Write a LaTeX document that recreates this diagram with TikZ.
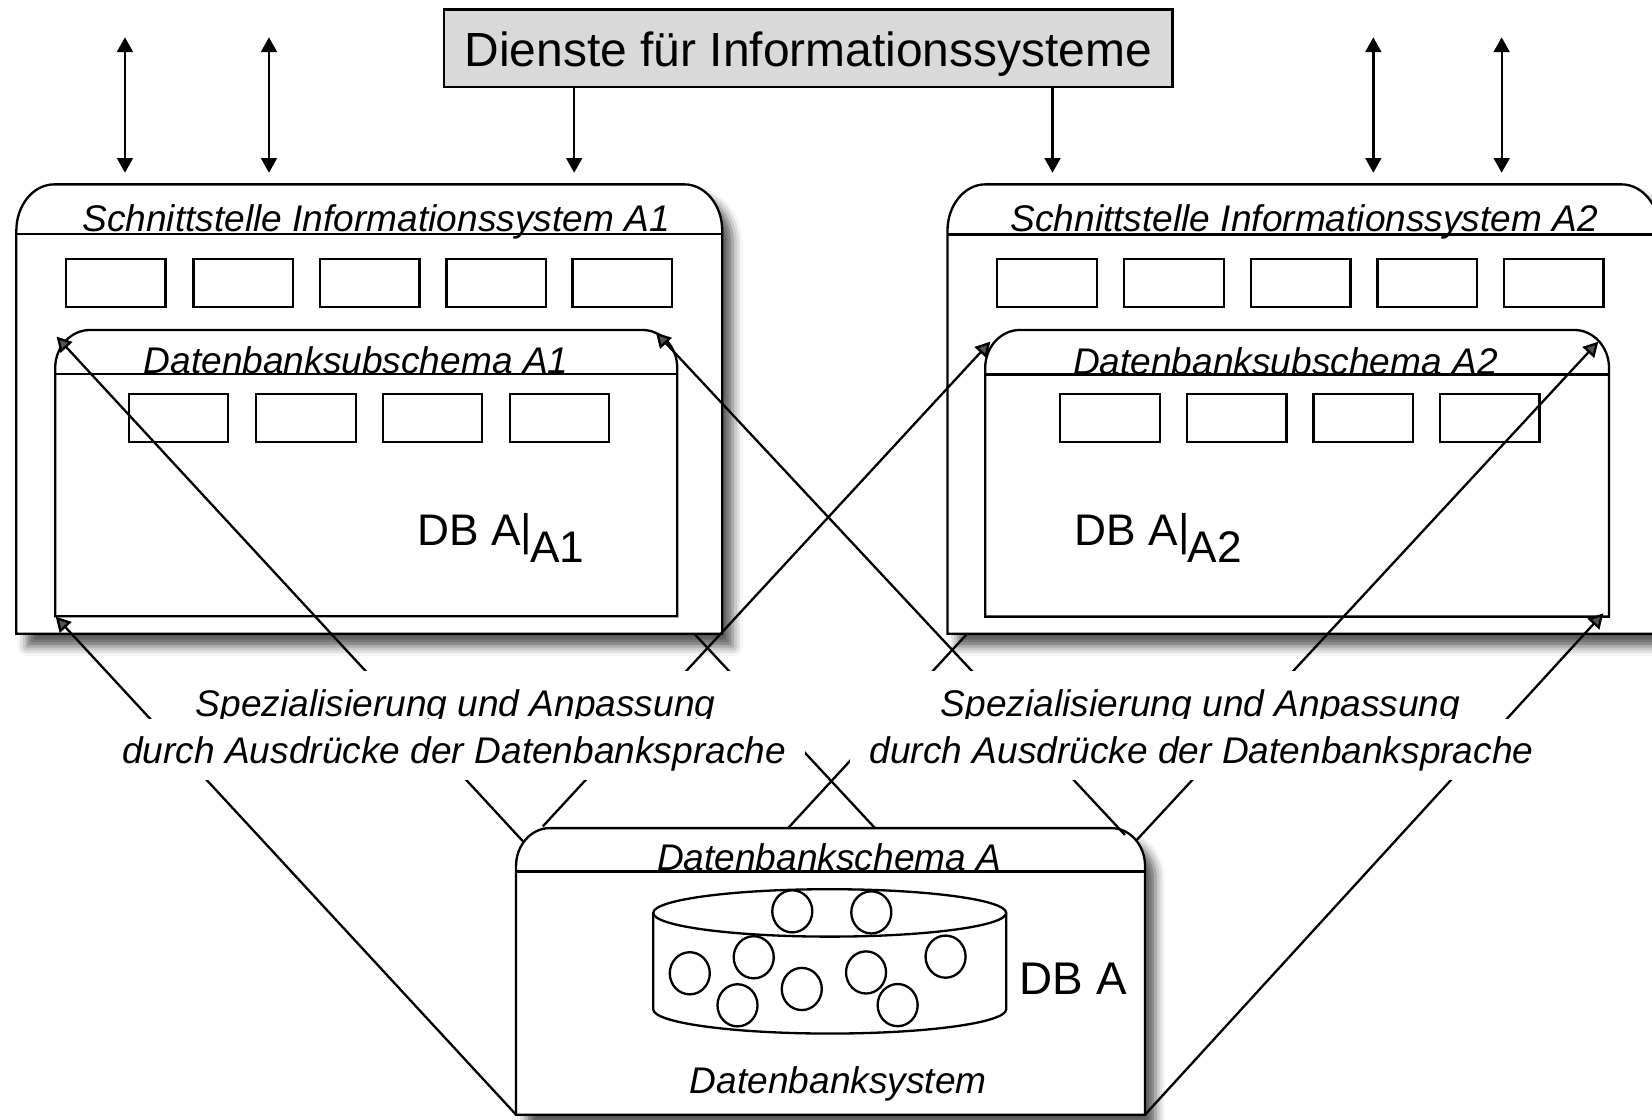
\documentclass[tikz,border=0pt]{standalone}
\usepackage{fontspec}
\setmainfont{Liberation Sans}
\usetikzlibrary{arrows.meta,shadows.blur}

\begin{document}
\begin{tikzpicture}[x=0.5pt,y=-0.5pt,
  every node/.style={inner sep=0pt,outer sep=0pt},
  frame/.style={draw=black,line width=1.1pt},
  container/.style={frame,fill=white},
  dropshadow/.style={blur shadow={shadow xshift=5pt,shadow yshift=-6pt,shadow blur radius=4.5pt,shadow opacity=65}},
  cell/.style={frame,fill=white,anchor=north west,minimum width=47.2pt,minimum height=22.7pt},
  link/.style={line width=1.1pt},
  tip/.style={-{Triangle[length=7pt,width=7.5pt]}},
  bitip/.style={{Triangle[length=7pt,width=7.5pt]}-{Triangle[length=7pt,width=7.5pt]}},
  headtxt/.style={font=\fontsize{17.6pt}{20pt}\selectfont\itshape,anchor=base},
  dbtxt/.style={font=\fontsize{21pt}{25pt}\selectfont,anchor=base west},
]
\useasboundingbox (0,0) rectangle (1568,1063);
\clip (0,0) rectangle (1568,1063);

% ---------- services box and its arrows ----------
\node[frame,fill={rgb,255:red,217;green,217;blue,217},minimum width=345.7pt,minimum height=37pt,
      text height=17.4pt,text depth=0pt,font=\fontsize{22.75pt}{27pt}\selectfont]
  (dienste) at (767.3,45.9) {Dienste für Informationssysteme};

\coordinate (u1) at (118.6,35.4);  \coordinate (l1) at (118.6,164);
\coordinate (u2) at (255.3,35.4);  \coordinate (l2) at (255.3,164);
\coordinate (l3) at (545,164);
\coordinate (l4) at (999,164);
\coordinate (u5) at (1303.5,35.4); \coordinate (l5) at (1303.5,164);
\coordinate (u6) at (1425.3,35.4); \coordinate (l6) at (1425.3,164);
\draw[link,bitip] (u1) -- (l1);
\draw[link,bitip] (u2) -- (l2);
\draw[link,tip] (dienste.south -| l3) -- (l3);
\draw[link,tip] (dienste.south -| l4) -- (l4);
\draw[link,bitip] (u5) -- (l5);
\draw[link,bitip] (u6) -- (l6);

% ---------- information system A1 ----------
\draw[container,dropshadow] (15.5,601.5) -- (15.5,219)
  arc[start angle=180,end angle=270,x radius=36,y radius=44] -- (649.5,175)
  arc[start angle=270,end angle=360,x radius=36,y radius=44] -- (685.5,601.5) -- cycle;
\draw[frame] (15.5,222) -- (685.5,222);
\node[headtxt] (titA1) at (357,220) {Schnittstelle Informationssystem A1};
\foreach \x [count=\i] in {62.7,183.7,303.7,423.7,543.3}
  \node[cell] (ifA1-\i) at (\x,246.1) {};

\draw[container] (52.4,584.9) -- (52.4,349.2)
  arc[start angle=180,end angle=270,x radius=33,y radius=36] -- (609.8,313.2)
  arc[start angle=270,end angle=360,x radius=33,y radius=36] -- (642.8,584.9) -- cycle;
\draw[frame] (52.4,355) -- (642.8,355);
\node[headtxt] (subA1) at (338,354.5) {Datenbanksubschema A1};
\foreach \x [count=\i] in {122.3,243.2,363.3,483.8}
  \node[cell] (sbA1-\i) at (\x,374) {};
\node[dbtxt] (dbA1) at (396.4,518) {DB A|\kern-1pt\raisebox{-8pt}{A1}};

% ---------- information system A2 ----------
\draw[container,dropshadow] (899.3,601.5) -- (899.3,219)
  arc[start angle=180,end angle=270,x radius=36,y radius=44] -- (1539,175)
  arc[start angle=270,end angle=360,x radius=36,y radius=44] -- (1575,601.5) -- cycle;
\draw[frame] (899.3,222.5) -- (1575,222.5);
\node[headtxt] (titA2) at (1238,220) {Schnittstelle Informationssystem A2};
\foreach \x [count=\i] in {946.5,1067.1,1187.3,1307.5,1427.6}
  \node[cell] (ifA2-\i) at (\x,246.1) {};

\draw[container] (935.1,585.3) -- (935.1,349.2)
  arc[start angle=180,end angle=270,x radius=33,y radius=36] -- (1494.2,313.2)
  arc[start angle=270,end angle=360,x radius=33,y radius=36] -- (1527.2,585.3) -- cycle;
\draw[frame] (935.1,355.5) -- (1527.2,355.5);
\node[headtxt] (subA2) at (1220,355) {Datenbanksubschema A2};
\foreach \x [count=\i] in {1006.4,1126.6,1246.7,1366.9}
  \node[cell] (sbA2-\i) at (\x,374) {};
\node[dbtxt] (dbA2) at (1020.3,518.2) {DB A|\kern-1pt\raisebox{-8pt}{A2}};

% ---------- database system ----------
\draw[container,dropshadow] (489.8,1058) -- (489.8,822)
  arc[start angle=180,end angle=270,x radius=32,y radius=36] -- (1054.8,786)
  arc[start angle=270,end angle=360,x radius=32,y radius=36] -- (1086.8,1058) -- cycle;
\draw[frame] (489.8,827.3) -- (1086.8,827.3);
\node[headtxt] (schemaA) at (787,826.5) {Datenbankschema A};
\node[headtxt] (dbsys) at (795.6,1037.7) {Datenbanksystem};

% cylinder with the stored objects
\draw[frame] (787.5,866.5) ellipse[x radius=167.5,y radius=22.5];
\draw[frame] (620,866.5) -- (620,958)
  arc[start angle=180,end angle=0,x radius=167.5,y radius=23] -- (955,866.5);
\foreach \p in {(752,865),(827,866),(654.7,923.8),(715.4,908.6),(761,938.7),
                (700,954.2),(822,923),(852,954),(897.5,908)}
  \draw[frame] \p ellipse[x radius=19,y radius=20];
\node[font=\fontsize{21.75pt}{26pt}\selectfont,anchor=base west] (dbA) at (968,943.5) {DB A};

% ---------- specialisation links ----------
\coordinate (sub1-sw) at (52.9,585.3);
\coordinate (sub1-nw) at (53.7,319.5);
\coordinate (sub1-ne) at (622.6,315.7);
\coordinate (sub2-nw) at (940,324.3);
\coordinate (sub2-ne) at (1517,324.3);
\coordinate (sub2-se) at (1521.8,582.1);
\coordinate (db-sw) at (489.8,1058);
\coordinate (db-nwa) at (496.7,798.9);
\coordinate (db-nwb) at (515.1,784.5);
\coordinate (db-nea) at (1067.8,792.5);
\coordinate (db-neb) at (1078.9,797.3);
\coordinate (db-se) at (1086.8,1058);
\coordinate (db-n1) at (748,786);
\coordinate (db-n2) at (830.5,786);
\coordinate (sys1-s) at (659,601.5);
\coordinate (sys2-s) at (918,601.5);

\draw[link,tip] (db-sw) -- (sub1-sw);
\draw[link,tip] (db-nwa) -- (sub1-nw);
\draw[link,tip] (db-nea) -- (sub1-ne);
\draw[link,tip] (db-nwb) -- (sub2-nw);
\draw[link,tip] (db-neb) -- (sub2-ne);
\draw[link,tip] (db-se) -- (sub2-se);
\draw[link] (db-n2) -- (sys1-s);
\draw[link] (db-n1) -- (sys2-s);

% ---------- link labels on white ground ----------
\fill[white] (168,637) rectangle (740,682);
\node[headtxt] (specL) at (432.5,680) {Spezialisierung und Anpassung};
\fill[white] (98,682) rectangle (764,740);
\node[headtxt] (exprL) at (431,725) {durch Ausdrücke der Datenbanksprache};

\fill[white] (840,637) rectangle (1404,682);
\node[headtxt] (specR) at (1139.5,680) {Spezialisierung und Anpassung};
\fill[white] (807,682) rectangle (1474,740);
\node[headtxt] (exprR) at (1140.5,725) {durch Ausdrücke der Datenbanksprache};

\end{tikzpicture}
\end{document}
